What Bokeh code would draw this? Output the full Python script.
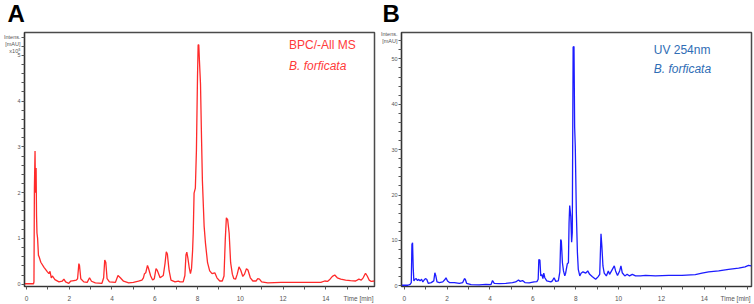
from bokeh.plotting import figure
from bokeh.layouts import row
from bokeh.models import Label, FixedTicker, Range1d
from bokeh.embed import file_html
from bokeh.resources import INLINE

# ---- Panel A: BPC/-All MS (intensity x10^5) ----
t_ms = [-0.09, 0.33, 0.35, 0.37, 0.40, 0.42, 0.45, 0.47, 0.49, 0.52, 0.56, 0.59, 0.67, 0.82, 0.98,
        1.05, 1.10, 1.16, 1.21, 1.33, 1.52, 1.67, 1.75, 1.83, 1.98, 2.06, 2.22, 2.33, 2.39, 2.45,
        2.48, 2.54, 2.68, 2.84, 2.95, 3.04, 3.22, 3.53, 3.61, 3.66, 3.71, 3.77, 3.88, 4.16, 4.28,
        4.39, 4.54, 4.78, 5.0, 5.24, 5.4, 5.47, 5.52, 5.58, 5.66, 5.7, 5.81, 5.9, 5.98, 6.06,
        6.12, 6.25, 6.4, 6.48, 6.54, 6.59, 6.67, 6.76, 6.95, 7.1, 7.18, 7.33, 7.41, 7.46, 7.5,
        7.55, 7.61, 7.67, 7.72, 7.77, 7.8, 7.84, 7.9, 7.95, 8.0, 8.03, 8.06, 8.09, 8.14, 8.19,
        8.23, 8.31, 8.37, 8.47, 8.57, 8.68, 8.81, 8.91, 9.04, 9.16, 9.24, 9.3, 9.35, 9.41, 9.48,
        9.55, 9.63, 9.7, 9.78, 9.86, 9.94, 10.02, 10.12, 10.2, 10.29, 10.36, 10.47, 10.59, 10.74,
        10.82, 10.9, 11.0, 11.29, 11.91, 12.68, 13.77, 13.95, 14.08, 14.2, 14.31, 14.42, 14.54,
        14.7, 14.93, 15.16, 15.4, 15.55, 15.66, 15.75, 15.86, 15.94, 16.03, 16.13, 16.28]
i_ms = [0.01, 0.01, 0.05, 2.1, 2.91, 2.0, 2.54, 1.5, 1.12, 1.0, 0.63, 0.6, 0.48, 0.37, 0.27,
        0.23, 0.28, 0.14, 0.18, 0.10, 0.05, 0.065, 0.11, 0.05, 0.02, 0.065, 0.08, 0.09, 0.12, 0.45,
        0.41, 0.12, 0.05, 0.04, 0.14, 0.065, 0.03, 0.02, 0.14, 0.53, 0.48, 0.12, 0.05, 0.04, 0.19,
        0.14, 0.065, 0.03, 0.04, 0.065, 0.09, 0.14, 0.23, 0.25, 0.41, 0.36, 0.18, 0.09, 0.12, 0.34,
        0.30, 0.14, 0.19, 0.45, 0.71, 0.66, 0.30, 0.09, 0.05, 0.07, 0.05, 0.05, 0.19, 0.64, 0.70,
        0.57, 0.37, 0.23, 0.34, 0.73, 1.12, 1.99, 2.1, 2.93, 4.53, 5.23, 5.23, 4.89, 4.38, 3.15,
        2.25, 1.27, 0.91, 0.47, 0.29, 0.23, 0.25, 0.14, 0.07, 0.07, 0.18, 0.98, 1.45, 1.41, 1.12,
        0.47, 0.22, 0.12, 0.11, 0.22, 0.38, 0.31, 0.17, 0.22, 0.34, 0.31, 0.14, 0.07, 0.07,
        0.12, 0.11, 0.05, 0.03, 0.04, 0.04, 0.04, 0.07, 0.06, 0.11, 0.17, 0.20, 0.14,
        0.11, 0.09, 0.08, 0.07, 0.11, 0.09, 0.14, 0.24, 0.18, 0.09, 0.06, 0.07]

# ---- Panel B: UV 254 nm (mAU) ----
t_uv = [-0.12, 0.17, 0.28, 0.33, 0.36, 0.39, 0.42, 0.45, 0.5, 0.56, 0.62, 0.68, 0.74, 0.81, 0.87,
        0.93, 0.99, 1.05, 1.12, 1.26, 1.38, 1.43, 1.47, 1.53, 1.64, 1.8, 1.91, 1.95, 2.02, 2.11,
        2.34, 2.57, 2.73, 2.81, 2.85, 2.91, 3.12, 3.5, 3.81, 4.05, 4.12, 4.2, 4.43, 4.74, 5.05,
        5.2, 5.33, 5.41, 5.52, 5.63, 5.83, 6.06, 6.19, 6.25, 6.28, 6.33, 6.37, 6.42, 6.47, 6.51,
        6.56, 6.65, 6.84, 6.91, 6.99, 7.07, 7.19, 7.26, 7.3, 7.33, 7.38, 7.43, 7.49, 7.53, 7.61,
        7.66, 7.69, 7.72, 7.77, 7.81, 7.84, 7.88, 7.92, 7.95, 7.98, 8.03, 8.08, 8.12, 8.19, 8.25,
        8.34, 8.47, 8.56, 8.65, 8.78, 8.93, 9.04, 9.12, 9.18, 9.22, 9.27, 9.33, 9.43, 9.52, 9.58,
        9.71, 9.8, 9.86, 9.95, 10.05, 10.11, 10.17, 10.29, 10.4, 10.51, 10.64, 10.79, 11.02, 11.26,
        11.72, 12.34, 12.96, 13.58, 13.89, 14.2, 14.67, 15.13, 15.6, 15.9, 16.06, 16.19]
i_uv = [0.15, 0.15, 0.36, 0.73, 9.1, 9.5, 4.0, 1.1, 1.46, 1.6, 1.17, 1.46, 1.1, 1.46, 0.88,
        1.3, 1.6, 1.46, 0.58, 0.73, 1.1, 2.9, 2.3, 0.88, 0.73, 0.88, 1.46, 1.8, 1.1, 0.73,
        0.73, 0.58, 0.73, 1.6, 1.46, 0.58, 0.29, 0.22, 0.36, 0.29, 1.17, 0.58, 0.51, 0.58, 0.73,
        0.88, 1.3, 1.0, 1.17, 0.73, 0.66, 0.88, 0.95, 1.46, 5.8, 5.7, 2.2, 2.55, 1.6, 2.8,
        1.8, 1.1, 0.88, 1.1, 1.8, 1.0, 1.1, 3.1, 10.2, 9.9, 5.1, 3.3, 2.2, 2.8, 4.9,
        5.1, 13.9, 17.7, 15.3, 9.6, 11.7, 52.6, 52.7, 35.0, 30.7, 16.1, 7.3, 3.65, 2.2, 2.8,
        3.1, 2.8, 3.3, 2.55, 2.0, 1.46, 2.0, 2.55, 11.5, 8.8, 4.4, 2.8, 2.2, 3.3, 2.55,
        3.65, 4.4, 3.3, 2.3, 3.3, 4.4, 2.9, 2.2, 2.55, 2.2, 2.55, 2.2, 2.2, 2.3,
        2.2, 2.3, 2.3, 2.5, 2.8, 3.1, 3.3, 3.65, 3.9, 4.2, 4.5, 4.4]

x_ticks = [0, 2, 4, 6, 8, 10, 12, 14]
y_ticks_ms = [0, 1, 2, 3, 4, 5]
y_ticks_uv = [0, 10, 20, 30, 40, 50]

FONT = "Liberation Sans"


def make_panel(xr, yr, yticks, time_pos, unit_pos, unit_text, border_top):
    p = figure(width=377, height=304, output_backend="svg", toolbar_location=None,
               x_range=Range1d(*xr), y_range=Range1d(*yr),
               min_border_left=22, min_border_right=3,
               min_border_top=border_top, min_border_bottom=17,
               background_fill_color="white", border_fill_color="white",
               outline_line_color="#4a4a4a", outline_line_width=1.5)
    p.xgrid.visible = False
    p.ygrid.visible = False
    for ax in (p.xaxis[0], p.yaxis[0]):
        ax.axis_line_color = "#333333"
        ax.axis_line_width = 1.2
        ax.major_tick_line_color = None
        ax.minor_tick_line_color = "#555555"
        ax.major_tick_in = 0
        ax.minor_tick_in = 0
        ax.major_tick_out = 0
        ax.minor_tick_out = 3
        ax.major_label_text_font = FONT
        ax.major_label_text_color = "#555555"
    p.xaxis.major_label_text_font_size = "6.5px"
    p.xaxis.major_label_standoff = 5
    p.yaxis.major_label_text_font_size = "5.5px"
    p.yaxis.major_label_standoff = 1
    # x: labelled even minutes, "Time [min]" written as the last label
    p.xaxis.ticker = FixedTicker(ticks=x_ticks + [time_pos],
                                 minor_ticks=list(range(0, 17)))
    p.xaxis.major_label_overrides = {time_pos: "Time [min]"}
    # y: labelled majors plus unit block at the top
    step = yticks[1] - yticks[0]
    minors = [k * step / 5.0 for k in range(0, 5 * len(yticks) + 2)]
    p.yaxis.ticker = FixedTicker(ticks=yticks + [unit_pos], minor_ticks=minors)
    p.yaxis.major_label_overrides = {unit_pos: unit_text}
    return p


pa = make_panel((-0.093, 16.28), (-0.05, 5.5), y_ticks_ms, 15.53, 5.25,
                "Intens.\n[mAU]\nx10\u2075", 29)
pa.line(t_ms, i_ms, line_color="#ff2a2a", line_width=1.3)

pb = make_panel((-0.126, 16.2), (-0.13, 55.8), y_ticks_uv, 15.46, 54.7,
                "Intens.\n[mAU]", 32)
pb.line(t_uv, i_uv, line_color="#1c1cff", line_width=1.3)

# Panel letters in the top border
pa.add_layout(Label(x=-17, y=19, x_units="screen", y_units="screen", text="A",
                    text_font=FONT, text_font_style="bold", text_font_size="24px",
                    text_baseline="alphabetic", text_color="black"), "above")
pb.add_layout(Label(x=-19, y=19, x_units="screen", y_units="screen", text="B",
                    text_font=FONT, text_font_style="bold", text_font_size="24px",
                    text_baseline="alphabetic", text_color="black"), "above")

# In-plot annotations
pa.add_layout(Label(x=12.28, y=5.08, text="BPC/-All MS", text_font=FONT,
                    text_font_size="12px", text_color="#ff3a3a"))
pa.add_layout(Label(x=12.28, y=4.62, text="B. forficata", text_font=FONT, text_font_style="italic",
                    text_font_size="12px", text_color="#ff3a3a"))
pb.add_layout(Label(x=11.64, y=50.5, text="UV 254nm", text_font=FONT,
                    text_font_size="12px", text_color="#2f6db5"))
pb.add_layout(Label(x=11.64, y=46.3, text="B. forficata", text_font=FONT, text_font_style="italic",
                    text_font_size="12px", text_color="#2f6db5"))

layout = row(pa, pb)
open("out.html", "w").write(file_html(layout, INLINE))
